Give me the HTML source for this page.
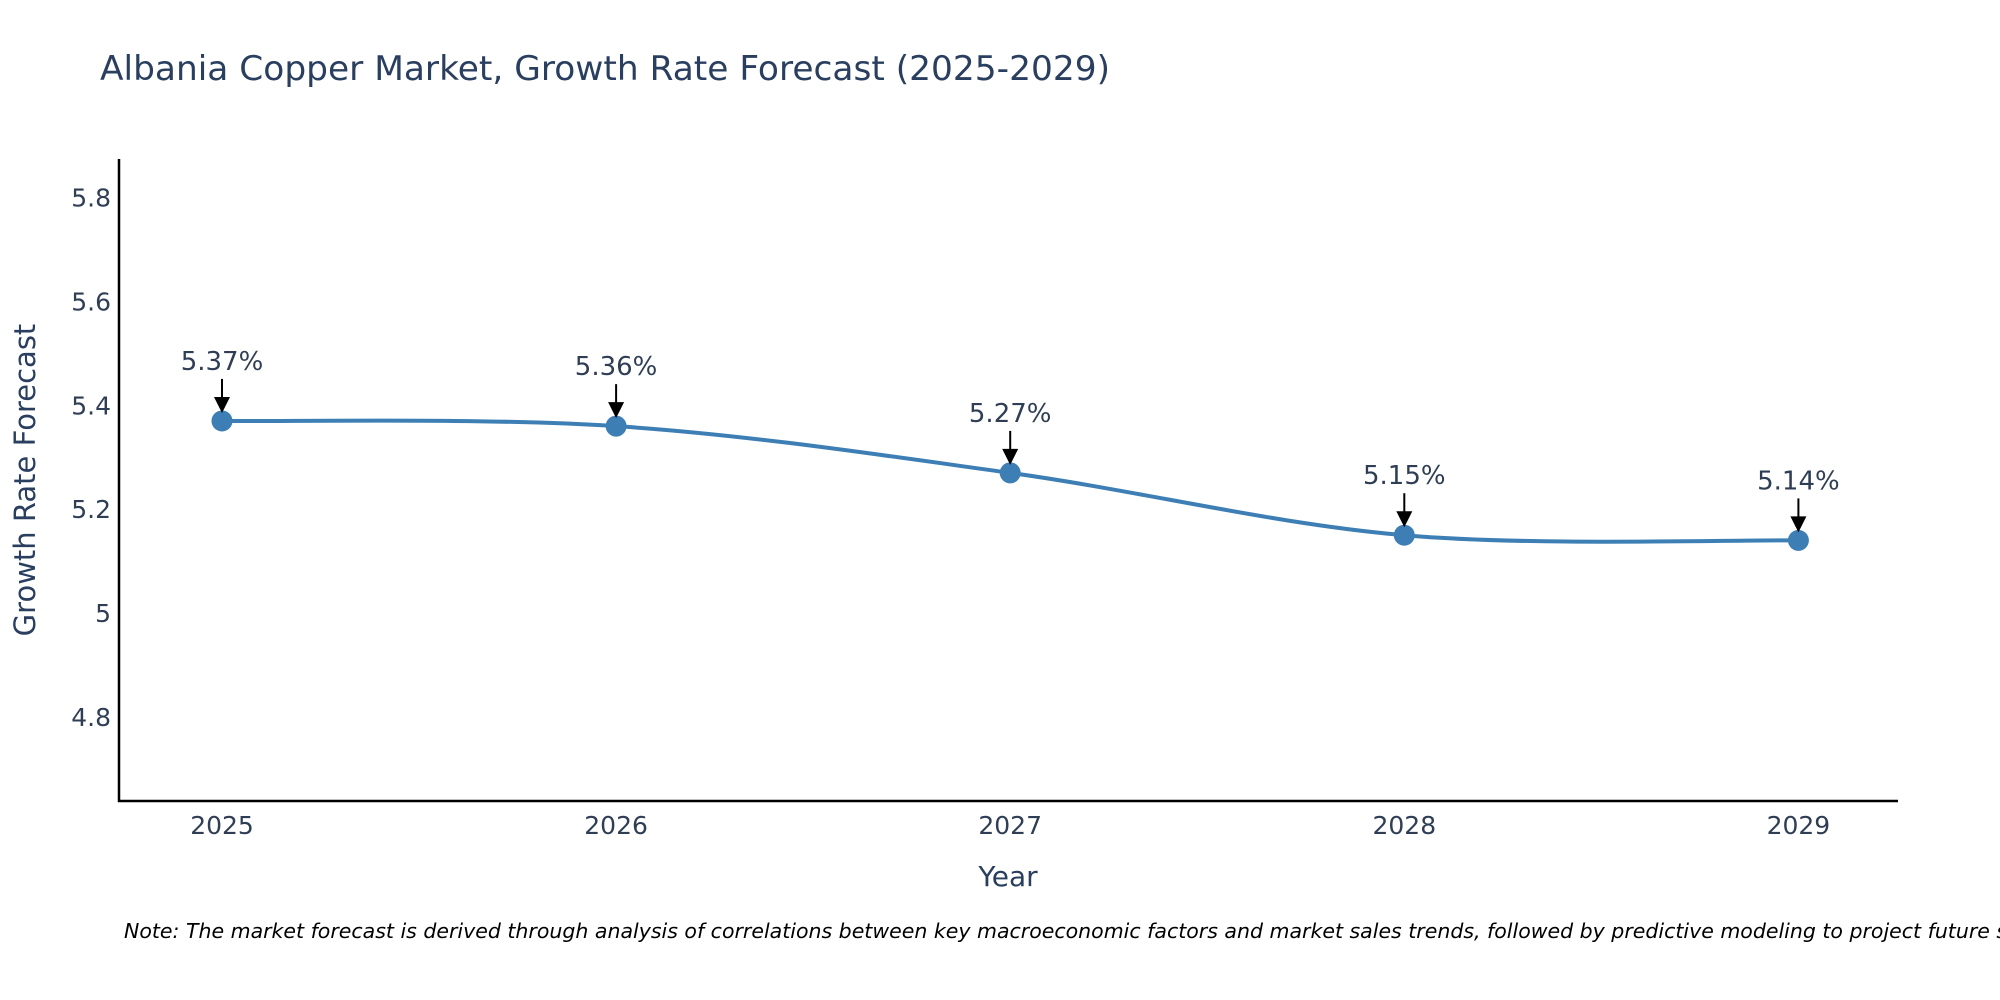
<!DOCTYPE html>
<html><head><meta charset="utf-8"><style>
html,body{margin:0;padding:0;background:#fff;}
svg{display:block;font-family:"DejaVu Sans","Liberation Sans",sans-serif;}
</style></head><body>
<svg id="chart" width="2000" height="1000" viewBox="0 0 2000 1000" xmlns="http://www.w3.org/2000/svg">
<text x="100" y="80" font-size="34" fill="#2a3f5f" textLength="1010" lengthAdjust="spacingAndGlyphs">Albania Copper Market, Growth Rate Forecast (2025-2029)</text>
<g id="yticks"></g><g id="xticks"></g>
<line x1="119" y1="159" x2="119" y2="802" stroke="#000" stroke-width="2.5"/>
<line x1="118" y1="801" x2="1898" y2="801" stroke="#000" stroke-width="2.5"/>
<path id="line" fill="none" stroke="#3d7fb5" stroke-width="4"/>
<g id="points"></g><g id="annots"></g>
<text x="1008" y="886" font-size="28" fill="#2a3f5f" text-anchor="middle">Year</text>
<text transform="translate(35,480) rotate(-90)" font-size="29" fill="#2a3f5f" text-anchor="middle">Growth Rate Forecast</text>
<text x="124" y="938" font-size="20.5" font-style="italic" fill="#000">Note: The market forecast is derived through analysis of correlations between key macroeconomic factors and market sales trends, followed by predictive modeling to project future sales.</text>
</svg>
<script>
const years = [2025, 2026, 2027, 2028, 2029];
const values = [5.37, 5.36, 5.27, 5.15, 5.14];
const labels = ["5.37%", "5.36%", "5.27%", "5.15%", "5.14%"];
const yTicks = [4.8, 5.0, 5.2, 5.4, 5.6, 5.8];
const yTickLabels = ["4.8", "5", "5.2", "5.4", "5.6", "5.8"];

const NS = "http://www.w3.org/2000/svg";
const xs = v => 222 + (v - 2025) * 394.1;
const ys = v => 717 - (v - 4.8) * 519.4;
function mk(tag, attrs, parent, text) {
  const e = document.createElementNS(NS, tag);
  for (const k in attrs) e.setAttribute(k, attrs[k]);
  if (text !== undefined) e.textContent = text;
  parent.appendChild(e);
  return e;
}
const yg = document.getElementById('yticks');
yTicks.forEach((t, i) => {
  const el = mk('text', {x: 111, y: ys(t) + 9, 'font-size': 25, fill: '#2f3e55', 'text-anchor': 'end'}, yg, yTickLabels[i]);
  
  
});
const xg = document.getElementById('xticks');
years.forEach(y => {
  const el = mk('text', {x: xs(y), y: 834, 'font-size': 25, fill: '#2f3e55', 'text-anchor': 'middle'}, xg, String(y));
  
  
});
const P = years.map((y, i) => [xs(y), ys(values[i])]);
let d = `M${P[0][0]},${P[0][1]}`;
const tns = 0.5;
for (let i = 0; i < P.length - 1; i++) {
  const p0 = P[i - 1] || P[i], p1 = P[i], p2 = P[i + 1], p3 = P[i + 2] || P[i + 1];
  const c1 = [p1[0] + (p2[0] - p0[0]) * tns / 3, p1[1] + (p2[1] - p0[1]) * tns / 3];
  const c2 = [p2[0] - (p3[0] - p1[0]) * tns / 3, p2[1] - (p3[1] - p1[1]) * tns / 3];
  d += ` C${c1[0]},${c1[1]} ${c2[0]},${c2[1]} ${p2[0]},${p2[1]}`;
}
document.getElementById('line').setAttribute('d', d);
const pg = document.getElementById('points'), ag = document.getElementById('annots');
P.forEach((p, i) => {
  const c = mk('circle', {cx: p[0], cy: p[1], r: 10.5, fill: '#3d7fb5'}, pg);
  
  
  const l = mk('line', {x1: p[0], y1: p[1] - 42, x2: p[0], y2: p[1] - 20, stroke: '#000', 'stroke-width': 2}, ag);
  
  
  const h = mk('path', {d: `M${p[0]-8},${p[1]-24} L${p[0]+8},${p[1]-24} L${p[0]},${p[1]-8} Z`, fill: '#000'}, ag);
  
  
  const t = mk('text', {x: p[0], y: p[1] - 51, 'font-size': 26, fill: '#2f3e55', 'text-anchor': 'middle'}, ag, labels[i]);
  
  
});
</script>
</body></html>
